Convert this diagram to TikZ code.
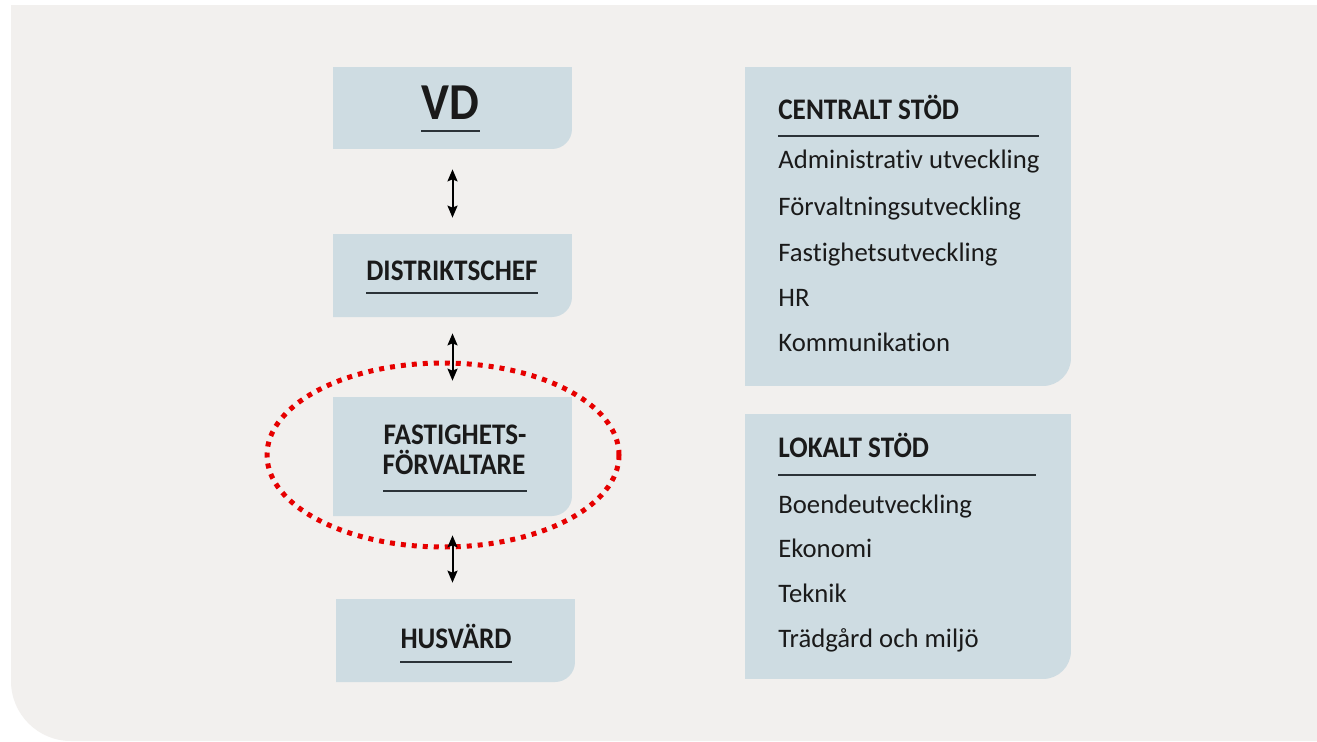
\documentclass[tikz,border=0pt]{standalone}
\usepackage{fontspec}
\setmainfont{Carlito}[Ligatures=NoCommon]
\newfontfamily\headfont{Carlito}[FakeStretch=0.91, Ligatures=NoCommon]
\usetikzlibrary{arrows.meta}
\definecolor{pagegray}{HTML}{F2F0EE}
\definecolor{boxblue}{HTML}{CEDCE2}
\definecolor{inkdark}{HTML}{1A1A1A}
\definecolor{rulecol}{HTML}{2B3338}
\definecolor{markred}{HTML}{E60000}
\begin{document}
\begin{tikzpicture}[
            x=0.02cm, y=-0.02cm,
            tabbox/.style={inner sep=0pt, path picture={
                \fill[boxblue] (path picture bounding box.north west) -- (path picture bounding box.north east)
                    -- ([yshift=#1]path picture bounding box.south east)
                    arc[start angle=0, end angle=-90, radius=#1]
                    -- (path picture bounding box.south west) -- cycle;}},
            tabbox/.default=0.4cm,
            boxtitle/.style={inner sep=0pt, anchor=base, text=inkdark, font=\headfont\bfseries\fontsize{17}{19}\selectfont},
            listhead/.style={inner sep=0pt, anchor=base west, text=inkdark, font=\headfont\bfseries\fontsize{17}{19}\selectfont},
            listitem/.style={inner sep=0pt, anchor=base west, text=inkdark, font=\fontsize{15.2}{18}\selectfont},
            uline/.style={draw=rulecol, line width=0.04cm},
            updown/.style={{Stealth[length=0.24cm,width=0.2cm,inset=0.04cm]}-{Stealth[length=0.24cm,width=0.2cm,inset=0.04cm]}, line width=0.04cm, draw=black},
            ringmark/.style={draw=markred, line width=0.1cm, dash pattern=on 0.1cm off 0.12cm},
        ]
            \useasboundingbox (0,0) rectangle (1317,741);
            \fill[white] (0,0) rectangle (1317,741);
            \fill[pagegray] (11,5) -- (1317,5) -- (1317,741) -- (71,741)
                arc[start angle=90, end angle=180, radius=60] -- cycle;
            % chain of command
            \node[tabbox, minimum width=4.78cm, minimum height=1.64cm] (vd) at (452.5,108) {};
            \node[tabbox, minimum width=4.78cm, minimum height=1.66cm] (dist) at (452.5,275.5) {};
            \node[tabbox, minimum width=4.78cm, minimum height=2.38cm] (fast) at (452.5,456.5) {};
            \node[tabbox, minimum width=4.78cm, minimum height=1.66cm] (hus) at (455.5,640.5) {};
            \node[boxtitle, font=\headfont\bfseries\fontsize{29.5}{32}\selectfont] (vdtxt) at (450.5,119) {VD};
            \draw[uline] (vdtxt.west |- 0,131) -- (vdtxt.east |- 0,131);
            \node[boxtitle] (disttxt) at (452,280) {DISTRIKTSCHEF};
            \draw[uline] (disttxt.west |- 0,293) -- (disttxt.east |- 0,293);
            \node[boxtitle] (fasttop) at (455,444) {FASTIGHETS-};
            \node[boxtitle] (fastbot) at (454,474) {FÖRVALTARE};
            \draw[uline] (fasttop.west |- 0,491) -- (fasttop.east |- 0,491);
            \node[boxtitle] (hustxt) at (456,648) {HUSVÄRD};
            \draw[uline] (hustxt.west |- 0,662) -- (hustxt.east |- 0,662);
            % marking
            \draw[ringmark] (443,455) ellipse [x radius=176, y radius=92];
            \draw[updown, shorten <=0.4cm, shorten >=0.32cm] (vd.south) -- (dist.north);
            \draw[updown, shorten <=0.32cm, shorten >=0.32cm] (dist.south) -- (fast.north);
            \draw[updown, shorten <=0.38cm, shorten >=0.32cm] (fast.south) -- (fast.south |- hus.north);
            % support
            \node[tabbox=0.56cm, minimum width=6.52cm, minimum height=6.38cm] (central) at (908,226.5) {};
            \node[listhead] (centralhead) at (778,119) {CENTRALT STÖD};
            \draw[uline] (centralhead.west |- 0,136) -- ++(261,0);
            \foreach \txt/\yy [count=\i] in {Administrativ utveckling/168, Förvaltningsutveckling/215,
                    Fastighetsutveckling/261, HR/306, Kommunikation/351}
                \node[listitem] (central-\i) at (778,\yy) {\txt};
            \node[tabbox=0.56cm, minimum width=6.52cm, minimum height=5.3cm] (lokal) at (908,546.5) {};
            \node[listhead] (lokalhead) at (778,457) {LOKALT STÖD};
            \draw[uline] (lokalhead.west |- 0,475) -- ++(258,0);
            \foreach \txt/\yy [count=\i] in {Boendeutveckling/513, Ekonomi/557, Teknik/602, Trädgård och miljö/647}
                \node[listitem] (lokal-\i) at (778,\yy) {\txt};
        \end{tikzpicture}
\end{document}
